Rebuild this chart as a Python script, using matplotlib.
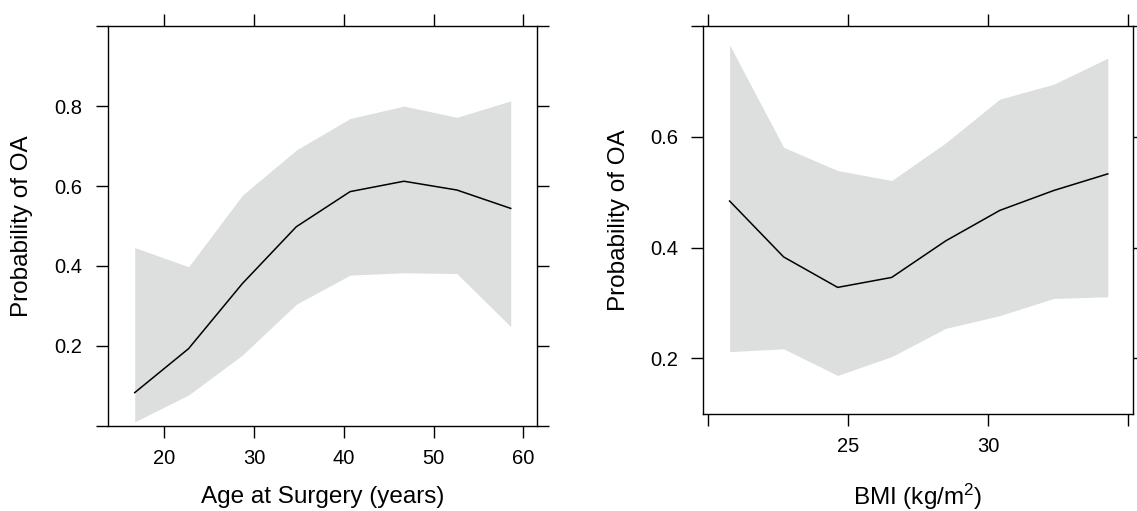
import matplotlib
matplotlib.use("Agg")
import matplotlib.pyplot as plt

plt.rcParams['font.family'] = ['Liberation Sans', 'DejaVu Sans']
plt.rcParams['mathtext.fontset'] = 'custom'
plt.rcParams['mathtext.rm'] = 'Liberation Sans'
plt.rcParams['mathtext.default'] = 'regular'

# left panel: age at surgery
age = [16.7, 22.7, 28.7, 34.7, 40.7, 46.7, 52.6, 58.6]
age_fit = [0.083, 0.193, 0.356, 0.498, 0.586, 0.612, 0.590, 0.544]
age_hi = [0.446, 0.398, 0.577, 0.690, 0.769, 0.800, 0.772, 0.813]
age_lo = [0.010, 0.077, 0.177, 0.304, 0.377, 0.383, 0.381, 0.248]

# right panel: BMI
bmi = [20.76, 22.69, 24.62, 26.55, 28.48, 30.41, 32.34, 34.27]
bmi_fit = [0.484, 0.383, 0.328, 0.346, 0.412, 0.467, 0.503, 0.533]
bmi_hi = [0.766, 0.581, 0.539, 0.521, 0.589, 0.668, 0.695, 0.742]
bmi_lo = [0.212, 0.217, 0.169, 0.203, 0.254, 0.277, 0.308, 0.311]

age_xticks = [20, 30, 40, 50, 60]
age_yticks = [0.0, 0.2, 0.4, 0.6, 0.8, 1.0]
age_ylabels = ['', '0.2', '0.4', '0.6', '0.8', '']
bmi_xticks = [20, 25, 30, 35]
bmi_xlabels = ['', '25', '30', '']
bmi_yticks = [0.2, 0.4, 0.6, 0.8]
bmi_ylabels = ['0.2', '0.4', '0.6', '']

band = '#dddfdf'
W, H = 1137, 511

fig = plt.figure(figsize=(W / 100, H / 100), dpi=100)
ax1 = fig.add_axes([107.7 / W, 85 / H, 429.6 / W, 400.3 / H])
ax2 = fig.add_axes([703.3 / W, 97.3 / H, 429.4 / W, 388 / H])


def style(ax):
    for s in ax.spines.values():
        s.set_linewidth(1.0)
    ax.tick_params(which='both', direction='out', length=8.6, width=1.0,
                   top=True, right=True, labelsize=14.5)
    ax.tick_params(axis='x', pad=8)
    ax.tick_params(axis='y', pad=9.5)


ax1.fill_between(age, age_lo, age_hi, color=band, linewidth=0)
ax1.plot(age, age_fit, color='black', lw=1.1)
ax1.set_xlim(13.69, 61.56)
ax1.set_ylim(-0.0005, 1.0012)
ax1.set_xticks(age_xticks)
ax1.set_yticks(age_yticks)
ax1.set_yticklabels(age_ylabels)
style(ax1)
ax1.set_xlabel('Age at Surgery (years)', fontsize=17.5)
ax1.xaxis.set_label_coords(0.5, -0.177)
ax1.xaxis.label.set_va('center')
ax1.set_ylabel('Probability of OA', fontsize=17.5)
ax1.yaxis.set_label_coords(-0.1995, 0.5)
ax1.yaxis.label.set_va('center')

ax2.fill_between(bmi, bmi_lo, bmi_hi, color=band, linewidth=0)
ax2.plot(bmi, bmi_fit, color='black', lw=1.1)
ax2.set_xlim(19.82, 35.16)
ax2.set_ylim(0.0999, 0.8006)
ax2.set_xticks(bmi_xticks)
ax2.set_xticklabels(bmi_xlabels)
ax2.set_yticks(bmi_yticks)
ax2.set_yticklabels(bmi_ylabels)
style(ax2)
ax2.set_xlabel('BMI (kg/m$^2$)', fontsize=17.5)
ax2.xaxis.set_label_coords(0.5, -0.215)
ax2.xaxis.label.set_va('center')
ax2.set_ylabel('Probability of OA', fontsize=17.5)
ax2.yaxis.set_label_coords(-0.196, 0.5)
ax2.yaxis.label.set_va('center')

fig.savefig('out.png', dpi=100)
